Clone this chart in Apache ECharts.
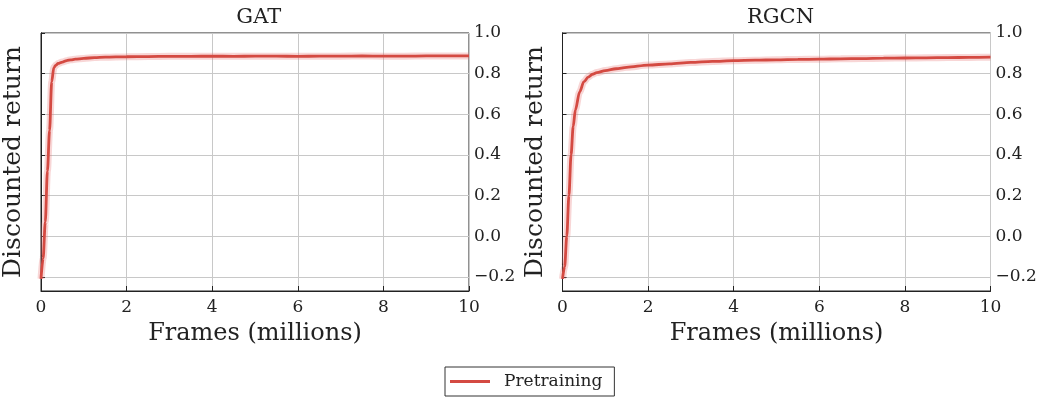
<!DOCTYPE html>
<html>
<head>
<meta charset="utf-8">
<script src="https://cdn.jsdelivr.net/npm/echarts@6/dist/echarts.min.js"></script>
<style>html,body{margin:0;padding:0;background:#fff}#c{width:1052px;height:402px}</style>
</head>
<body>
<div id="c"></div>
<script>
// ---- data ----
const panelTitles = ['GAT', 'RGCN'];
const seriesName = 'Pretraining';
const xTitle = 'Frames (millions)';
const yTitle = 'Discounted return';
const yTicks = [-0.2, 0.0, 0.2, 0.4, 0.6, 0.8, 1.0];

const gatX = [0, 0.05, 0.1, 0.15, 0.2, 0.25, 0.3, 0.35, 0.4, 0.5, 0.6, 0.7, 0.8, 1.0, 1.25, 1.5,
  2, 2.5, 3, 3.5, 4, 4.5, 5, 5.5, 6, 6.5, 7, 7.5, 8, 8.5, 9, 9.5, 10];
const gatY = [-0.21, -0.11, 0.07, 0.32, 0.52, 0.76, 0.83, 0.842, 0.85, 0.857, 0.864, 0.868, 0.871, 0.875, 0.879, 0.881,
  0.883, 0.884, 0.885, 0.885, 0.886, 0.885, 0.886, 0.886, 0.885, 0.886, 0.886, 0.887, 0.886, 0.886, 0.887, 0.887, 0.887];

const rgcnX = [0, 0.05, 0.1, 0.15, 0.2, 0.25, 0.3, 0.4, 0.5, 0.6, 0.7, 0.8, 1.0, 1.25, 1.5,
  2, 2.5, 3, 3.5, 4, 4.5, 5, 5.5, 6, 6.5, 7, 7.5, 8, 8.5, 9, 9.5, 10];
const rgcnY = [-0.21, -0.15, 0.0, 0.2, 0.4, 0.54, 0.62, 0.71, 0.76, 0.783, 0.797, 0.805, 0.815, 0.824, 0.831,
  0.842, 0.848, 0.855, 0.860, 0.864, 0.866, 0.868, 0.870, 0.871, 0.873, 0.874, 0.876, 0.877, 0.878, 0.879, 0.880, 0.881];

// ---- chart ----
const FONT = 'DejaVu Serif';
const TXT = '#222';
const LINE = '#d44a42';
const pairs = (xs, ys) => xs.map((x, i) => [x, ys[i]]);
const grids = [
  {left: 40.5, right: 583, top: 33, height: 258},
  {left: 562.5, right: 61.5, top: 33, height: 258}
];
const chart = echarts.init(document.getElementById('c'), null, {renderer: 'canvas'});
const fmtY = v => (Math.round(v * 10) / 10).toFixed(1).replace('-', '\u2212');

const xAxes = [], yAxes = [], series = [], titles = [];
[0, 1].forEach(g => {
  titles.push({
    text: panelTitles[g],
    left: grids[g].left + (1052 - grids[g].left - grids[g].right) / 2 - 1,
    textAlign: 'center',
    top: 2,
    textStyle: {fontFamily: FONT, fontSize: 21, fontWeight: 'normal', color: TXT}
  });
  xAxes.push({
    type: 'value', gridIndex: g, min: 0, max: 10, interval: 2,
    name: xTitle, nameLocation: 'middle', nameGap: 31,
    nameTextStyle: {fontFamily: FONT, fontSize: 24, color: TXT},
    axisLine: {show: true, onZero: false, lineStyle: {color: '#222', width: 1}},
    axisTick: {show: true, inside: true, length: 5, lineStyle: {color: '#222'}},
    axisLabel: {fontFamily: FONT, fontSize: 17, color: TXT, margin: 8},
    splitLine: {show: true, lineStyle: {color: '#c8c8c8', width: 1}}
  });
  // right axis with labels/ticks/grid
  yAxes.push({
    type: 'value', gridIndex: g, position: 'right', min: -0.27, max: 1.0,
    axisLine: {show: true, lineStyle: {color: '#222', width: 1}},
    axisTick: {show: true, inside: false, length: 4, customValues: yTicks, lineStyle: {color: '#222'}},
    axisLabel: {fontFamily: FONT, fontSize: 17, color: TXT, margin: 5, customValues: yTicks, formatter: fmtY},
    splitLine: {show: true, lineStyle: {color: '#c8c8c8', width: 1}}
  });
  // left axis for the title only
  yAxes.push({
    type: 'value', gridIndex: g, position: 'left', min: -0.27, max: 1.0,
    name: yTitle, nameLocation: 'middle', nameGap: 15, nameRotate: 90,
    nameTextStyle: {fontFamily: FONT, fontSize: 25, color: TXT},
    axisLine: {show: true, lineStyle: {color: '#222', width: 1}},
    axisTick: {show: false}, axisLabel: {show: false}, splitLine: {show: false}
  });
});

const panelData = [pairs(gatX, gatY), pairs(rgcnX, rgcnY)];
[0, 1].forEach(g => {
  series.push({
    name: 'band' + g, type: 'line', xAxisIndex: g, yAxisIndex: g * 2,
    data: panelData[g], showSymbol: false, smooth: 0.3, smoothMonotone: 'x', silent: true,
    lineStyle: {color: 'rgba(232,120,120,0.3)', width: 7}, z: 2
  });
  series.push({
    name: seriesName, type: 'line', xAxisIndex: g, yAxisIndex: g * 2,
    data: panelData[g], showSymbol: false, smooth: 0.3, smoothMonotone: 'x',
    lineStyle: {color: LINE, width: 2.8}, itemStyle: {color: LINE}, z: 3
  });
});

chart.setOption({
  animation: false,
  backgroundColor: '#fff',
  title: titles,
  grid: grids.map(gr => Object.assign({show: true, borderColor: '#222', borderWidth: 1, backgroundColor: 'transparent'}, gr)),
  xAxis: xAxes,
  yAxis: yAxes,
  legend: {
    data: [{name: seriesName, icon: 'rect'}],
    left: 445, top: 367,
    itemWidth: 40, itemHeight: 3,
    padding: [6, 12, 6, 5],
    borderColor: '#333', borderWidth: 1, borderRadius: 0,
    textStyle: {fontFamily: FONT, fontSize: 17, color: TXT, padding: [0, 0, 0, 9]}
  },
  series: series
});
</script>
</body>
</html>
